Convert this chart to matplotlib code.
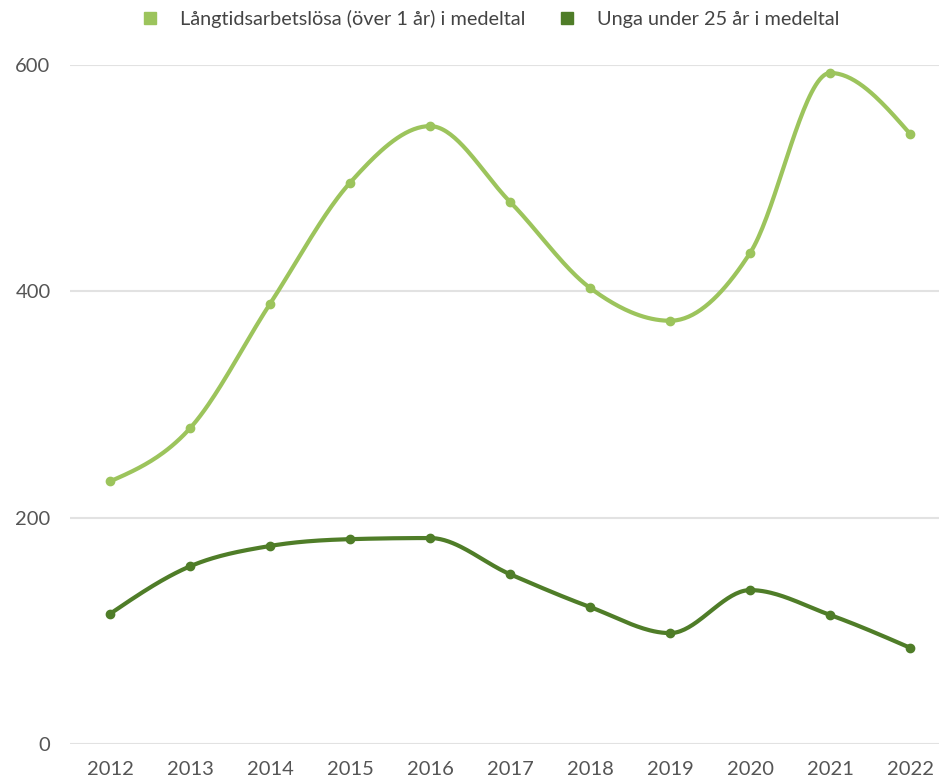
import numpy as np
import matplotlib
matplotlib.use("Agg")
import matplotlib.pyplot as plt
from matplotlib.lines import Line2D

plt.rcParams['font.family'] = ['Lato', 'DejaVu Sans']

years = [2012, 2013, 2014, 2015, 2016, 2017, 2018, 2019, 2020, 2021, 2022]
langtid = [232, 279, 389, 496, 546, 479, 403, 374, 434, 593, 539]
unga = [115, 157, 175, 181, 182, 150, 121, 98, 136, 114, 85]
names = ["Långtidsarbetslösa (över 1 år) i medeltal", "Unga under 25 år i medeltal"]
colors = ["#9cc45c", "#4f7d28"]


def smooth(x, y, n=40):
    # monotone cubic (like d3 monotoneX), only for drawing the curve
    x = np.asarray(x, float)
    y = np.asarray(y, float)
    h = np.diff(x)
    s = np.diff(y) / h
    m = np.zeros(len(x))
    for i in range(1, len(x) - 1):
        p = (s[i - 1] * h[i] + s[i] * h[i - 1]) / (h[i - 1] + h[i])
        m[i] = (np.sign(s[i - 1]) + np.sign(s[i])) * min(abs(s[i - 1]), abs(s[i]), 0.5 * abs(p))
    m[0] = (3 * s[0] - m[1]) / 2
    m[-1] = (3 * s[-1] - m[-2]) / 2
    xs, ys = [], []
    t = np.linspace(0, 1, n)
    for i in range(len(x) - 1):
        h00 = 2 * t ** 3 - 3 * t ** 2 + 1
        h10 = t ** 3 - 2 * t ** 2 + t
        h01 = -2 * t ** 3 + 3 * t ** 2
        h11 = t ** 3 - t ** 2
        xs.extend(x[i] + t * h[i])
        ys.extend(h00 * y[i] + h10 * h[i] * m[i] + h01 * y[i + 1] + h11 * h[i] * m[i + 1])
    return xs, ys


fig = plt.figure(figsize=(9.39, 7.83), dpi=100)
ax = fig.add_axes([70 / 939, 39 / 783, 869 / 939, 679 / 783])

for vals, c in zip([langtid, unga], colors):
    sx, sy = smooth(years, vals)
    ax.plot(sx, sy, color=c, lw=3, clip_on=False, zorder=3)
    ax.plot(years, vals, 'o', color=c, ms=6, clip_on=False, zorder=4)

ax.set_xlim(2011.5, 2022.36)
ax.set_ylim(0, 600)
ax.set_yticks([0, 200, 400, 600])
ax.set_xticks(years)
ax.grid(axis='y', color='#e2e2e2', lw=1.5)
ax.set_axisbelow(True)
for s in ax.spines.values():
    s.set_visible(False)
ax.tick_params(axis='both', length=0, labelsize=14.5, labelcolor='#555555')
ax.tick_params(axis='y', pad=14)
ax.tick_params(axis='x', pad=12)

handles = [Line2D([], [], ls='none', marker='s', ms=9, color=c) for c in colors]
fig.legend(handles, names, loc='center', bbox_to_anchor=(0.516, 0.976), ncol=2,
           frameon=False, fontsize=14.3, labelcolor='#444444', handletextpad=0.5,
           columnspacing=1.1)

fig.savefig("out.png", dpi=100)
